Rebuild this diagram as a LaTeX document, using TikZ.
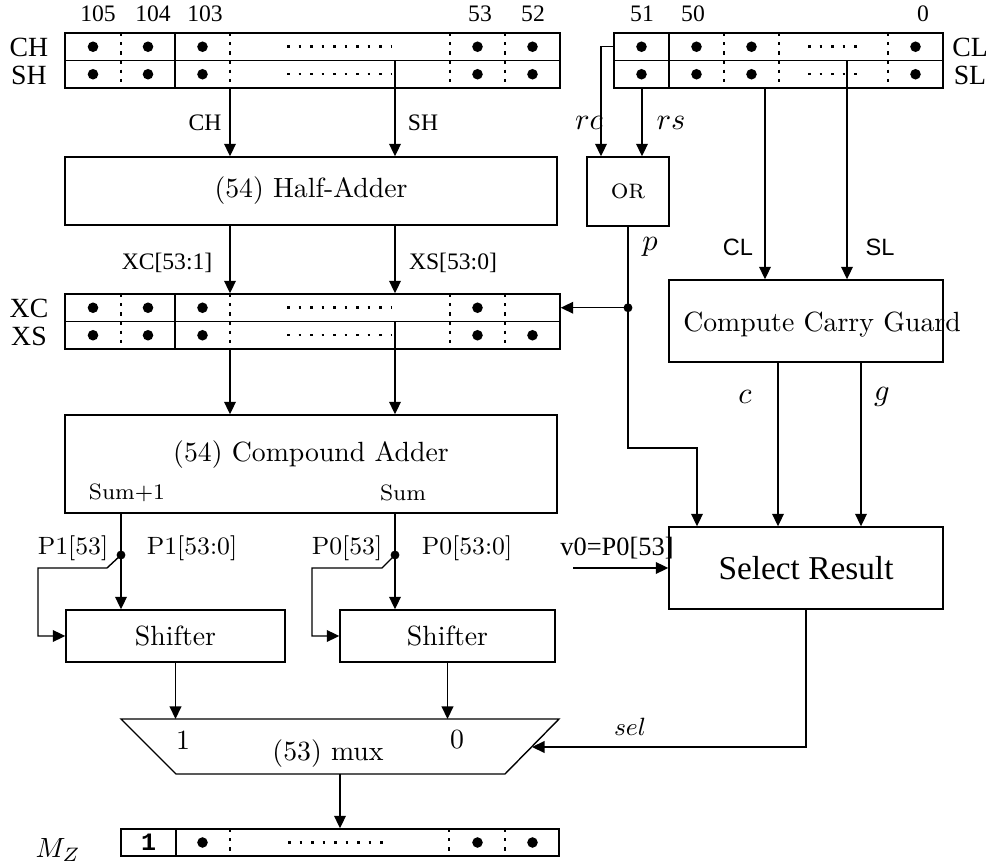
\documentclass[tikz,border=0pt]{standalone}
\usepackage{fontspec}
\newfontfamily\timesfont{Liberation Serif}
\newfontfamily\helvfont{Liberation Sans}
\newfontfamily\courfont{Liberation Mono}
\usetikzlibrary{arrows.meta, positioning}
\newcommand{\un}{0.36pt}

\begin{document}
\begin{tikzpicture}[x=0.36pt, y=-0.36pt, line width=0.5pt,
  reg/.style={draw, inner sep=0pt, minimum height=55*\un},
  blk/.style={draw, inner sep=0pt},
  sep/.style={line width=0.45pt, dash pattern=on 1.2pt off 2.1pt},
  fil/.style={line width=0.9pt, dash pattern=on 0.9pt off 3.24pt},
  arr/.style={-{Triangle[length=4.5pt, width=4.2pt]}},
  bitnum/.style={font=\timesfont\fontsize{8.5}{10}\selectfont},
  regname/.style={font=\timesfont\fontsize{10}{12}\selectfont},
  wire/.style={font=\timesfont\fontsize{8.5}{10}\selectfont},
  wiresf/.style={font=\helvfont\fontsize{8.5}{10}\selectfont},
  wirecm/.style={font=\small},
  sig/.style={font=\fontsize{11}{13}\selectfont}
]
\useasboundingbox (0,0) rectangle (990,867);

% 1. Input registers (high and low part)
\node[reg, minimum width=495*\un] (hreg) at (312.5,60.5) {};
\draw (hreg.west) -- (hreg.east);
\draw (175,33) -- (175,88);
\foreach \x in {121,230,450,505} \draw[sep] (\x,33) -- (\x,88);
\foreach \y in {46.75,74.25} {
  \foreach \x in {93,148,202.5,477.5,532.5} \fill (\x,\y) circle (1.9pt);
  \draw[fil] (287,\y) -- (391,\y);
}
\foreach \x/\n in {98/105,153/104,205/103,480/53,533/52}
  \node[bitnum] (b\n) at (\x,14) {\n};
\node[regname] (chname) at (29,47) {CH};
\node[regname] (shname) at (29,75) {SH};

\node[reg, minimum width=329*\un] (lreg) at (778.5,60.5) {};
\draw (lreg.west) -- (lreg.east);
\draw (669,33) -- (669,88);
\foreach \x in {724,779,888} \draw[sep] (\x,33) -- (\x,88);
\foreach \y in {46.75,74.25} {
  \foreach \x in {641.5,696.5,751.5,915.5} \fill (\x,\y) circle (1.9pt);
  \draw[fil] (808,\y) -- (857,\y);
}
\foreach \x/\n in {642/51,693/50,923/0}
  \node[bitnum] (b\n) at (\x,14) {\n};
\node[regname] (clname) at (970,47) {CL};
\node[regname] (slname) at (970,75) {SL};

% 2. Half adder and OR
\node[blk, minimum width=492*\un, minimum height=68*\un] (ha) at (311,191) {(54) Half-Adder};
\node[blk, minimum width=82*\un, minimum height=69*\un] (or) at (628,191.5) {\textsc{or}};

% 3. Carry/sum register
\node[reg, minimum width=495*\un] (xcreg) at (312.5,321.5) {};
\draw (xcreg.west) -- (xcreg.east);
\draw (175,294) -- (175,349);
\foreach \x in {121,230,450,505} \draw[sep] (\x,294) -- (\x,349);
\foreach \x in {93,148,202.5,477.5} \fill (\x,307.75) circle (1.9pt);
\foreach \x in {93,148,202.5,477.5,532.5} \fill (\x,335.25) circle (1.9pt);
\foreach \y in {307.75,335.25} \draw[fil] (287,\y) -- (391,\y);
\node[regname] (xcname) at (29,308) {XC};
\node[regname] (xsname) at (29,336) {XS};

% 4. Carry guard, compound adder, select
\node[blk, minimum width=274*\un, minimum height=82*\un] (ccg) at (806,321) {};
\node (ccgtxt) at (822,325) {Compute Carry Guard};
\node[blk, minimum width=492*\un, minimum height=98*\un] (ca) at (311,464) {};
\node (catxt) at (311,455) {(54) Compound Adder};
\node[font=\footnotesize] (sum1) at (127,493) {Sum+1};
\node[font=\footnotesize] (sum0) at (403,493) {Sum};
\node[blk, minimum width=274*\un, minimum height=82*\un,
  font=\timesfont\fontsize{12}{14}\selectfont] (sr) at (806,568) {Select Result};

% 5. Shifters, mux, result
\node[blk, minimum width=219*\un, minimum height=52*\un] (sh1) at (175.5,636) {Shifter};
\node[blk, minimum width=215*\un, minimum height=52*\un] (sh2) at (447.5,636) {Shifter};

\draw (121,719) -- (559,719) -- (505,774) -- (176,774) -- cycle;
\node (mux) at (328,754) {(53) mux};
\node (mone) at (183,740) {1};
\node (mzero) at (457,740) {0};
\coordinate (muxtop) at (340,719);
\coordinate (muxbot) at (340,774);
\coordinate (selin) at (532,747);

\node[reg, minimum width=438*\un, minimum height=27*\un] (mzreg) at (340,842.5) {};
\draw (176,829) -- (176,856);
\foreach \x in {230,449,505} \draw[sep] (\x,829) -- (\x,856);
\foreach \x in {202.5,477.5,532.5} \fill (\x,842.5) circle (1.9pt);
\draw[fil] (288,842.5) -- (390,842.5);
\node[font=\courfont\bfseries\small] (mzlead) at (148.5,842.5) {1};
\node (mzname) at (58,850) {$M_Z$};

% columns of the wires
\coordinate (colch) at (230,0);
\coordinate (colsh) at (395,0);
\coordinate (colrc) at (601,0);
\coordinate (colrs) at (642,0);
\coordinate (colcl) at (765,0);
\coordinate (colsl) at (847,0);
\coordinate (colc) at (778,0);
\coordinate (colg) at (861,0);
\coordinate (colp1) at (121,0);
\coordinate (rcpin) at (614,46.75);
\coordinate (pj) at (628,307.75);
\coordinate (pturn) at (697,448);
\coordinate (v0in) at (573,568);
\coordinate (j1) at (121,555);
\coordinate (j0) at (395,555);

% wires
\draw[arr] (hreg.south -| colch) -- (ha.north -| colch);
\draw[arr] (hreg.center -| colsh) -- (ha.north -| colsh);
\draw[arr] (ha.south -| colch) -- (xcreg.north -| colch);
\draw[arr] (ha.south -| colsh) -- (xcreg.north -| colsh);
\draw[arr] (xcreg.south -| colch) -- (ca.north -| colch);
\draw[arr] (xcreg.center -| colsh) -- (ca.north -| colsh);

\draw[arr] (rcpin) -| (or.north -| colrc);
\draw[arr] (lreg.south -| colrs) -- (or.north -| colrs);
\draw[arr] (lreg.south -| colcl) -- (ccg.north -| colcl);
\draw[arr] (lreg.center -| colsl) -- (ccg.north -| colsl);

\draw[arr] (or.south) |- (pturn) -- (sr.north -| pturn);
\fill (pj) circle (1.6pt);
\draw[arr] (pj) -- (xcreg.east |- pj);
\draw[arr] (ccg.south -| colc) -- (sr.north -| colc);
\draw[arr] (ccg.south -| colg) -- (sr.north -| colg);
\draw[arr] (v0in) -- (sr.west |- v0in);
\draw[arr] (sr.south) |- (selin);

\draw[arr] (ca.south -| colp1) -- (sh1.north -| colp1);
\fill (j1) circle (1.6pt);
\draw[arr] (j1) -- ++(-14,13) -- ++(-69,0) |- (sh1.west);
\draw[arr] (ca.south -| colsh) -- (sh2.north -| colsh);
\fill (j0) circle (1.6pt);
\draw[arr] (j0) -- ++(-13,13) -- ++(-70,0) |- (sh2.west);

\draw[arr] (sh1.south) -- (sh1.south |- muxtop);
\draw[arr] (sh2.south) -- (sh2.south |- muxtop);
\draw[arr] (muxbot) -- (mzreg.north);

% wire labels
\node[wire] (lch) at (205,123) {CH};
\node[wire] (lsh) at (423,123) {SH};
\node[wire] (lxc) at (167,263) {XC[53:1]};
\node[wire] (lxs) at (453,263) {XS[53:0]};
\node[sig] (lrc) at (589,123) {$rc$};
\node[sig] (lrs) at (671,123) {$rs$};
\node[sig] (lp) at (650,247) {$p$};
\node[wiresf] (lcl) at (738,247) {CL};
\node[wiresf] (lsl) at (880,247) {SL};
\node[sig] (lc) at (745,397) {$c$};
\node[sig] (lg) at (882,397) {$g$};
\node[wirecm] (lp1h) at (73,548) {P1[53]};
\node[wirecm] (lp1) at (192,548) {P1[53:0]};
\node[wirecm] (lp0h) at (347,548) {P0[53]};
\node[wirecm] (lp0) at (467,548) {P0[53:0]};
\node[font=\timesfont\fontsize{9.5}{11}\selectfont] (lv0) at (617,548) {v0=P0[53]};
\node[font=\small] (lsel) at (630,727) {$sel$};

\end{tikzpicture}
\end{document}
